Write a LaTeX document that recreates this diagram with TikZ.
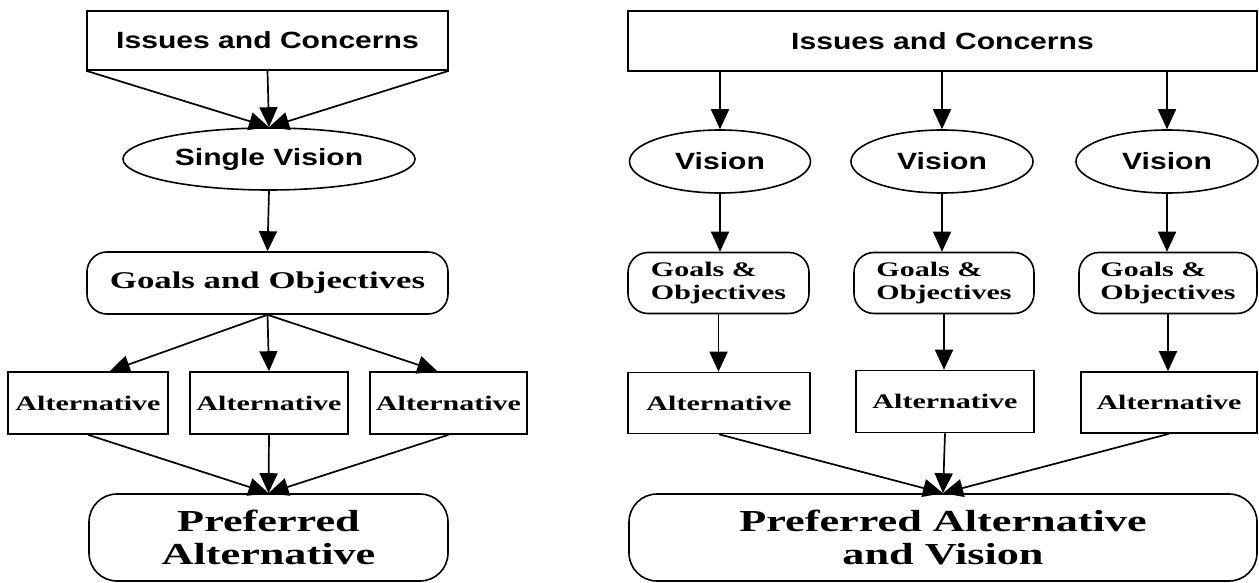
\documentclass[tikz,border=0pt]{standalone}
\usepackage{fontspec}
\usetikzlibrary{arrows.meta,shapes.geometric,calc}
\newfontfamily\sansb[FakeStretch=1.28]{Liberation Sans}
\newfontfamily\serifb[FakeStretch=1.45]{Liberation Serif}
\newcommand{\fsans}{\sansb\bfseries\fontsize{23.5}{26}\selectfont}
\newcommand{\fgoal}{\serifb\bfseries\fontsize{24}{26}\selectfont}
\newcommand{\falt}{\serifb\bfseries\fontsize{20.7}{22.5}\selectfont}
\newcommand{\fpref}{\serifb\bfseries\fontsize{30.5}{33}\selectfont}
\tikzset{
  conn/.style={line width=1.7pt, -{Triangle[length=20pt,width=18pt]}},
  sqbox/.style={draw, line width=1.6pt, inner sep=0pt},
  rbox/.style={draw, line width=1.6pt, rounded corners=20pt, inner sep=0pt},
  pbox/.style={draw, line width=1.6pt, rounded corners=28pt, inner sep=0pt, align=center, font=\fpref},
  oval/.style={draw, ellipse, line width=1.6pt, inner sep=0pt, font=\fsans},
  stxt/.style={font=\fsans},
  gtxt/.style={font=\fgoal},
  atxt/.style={font=\falt},
}
\begin{document}
\begin{tikzpicture}[x=1pt,y=-1pt]
\useasboundingbox (0,0) rectangle (1259,583);
% ---------- left panel ----------
\node[sqbox, stxt, minimum width=361pt, minimum height=59pt] (I1) at (267.5,40.5) {Issues and Concerns};
\node[oval, minimum width=292pt, minimum height=62pt] (SV) at (269,159) {Single Vision};
\node[rbox, gtxt, minimum width=361pt, minimum height=62pt] (G) at (267.5,283) {Goals and Objectives};
\node[sqbox, atxt, minimum width=160pt, minimum height=62pt] (A1) at (88,403) {Alternative};
\node[sqbox, atxt, minimum width=158pt, minimum height=62pt] (A2) at (269,403) {Alternative};
\node[sqbox, atxt, minimum width=157pt, minimum height=62pt] (A3) at (448.5,403) {Alternative};
\node[pbox, minimum width=359pt, minimum height=87pt] (P) at (268.5,537.5) {Preferred\\Alternative};
\draw[conn] (I1.south west) -- (SV.north);
\draw[conn] (I1.south) -- (SV.north);
\draw[conn] (I1.south east) -- (SV.north);
\draw[conn] (SV.south) -- (G.north);
\draw[conn] (G.south) -- ($(A1.north)!0.27!(A1.north east)$);
\draw[conn] (G.south) -- (A2.north);
\draw[conn] (G.south) -- ($(A3.north)!0.14!(A3.north west)$);
\draw[conn] (A1.south) -- (P.north);
\draw[conn] (A2.south) -- (P.north);
\draw[conn] (A3.south) -- (P.north);
% ---------- right panel ----------
\node[sqbox, stxt, minimum width=629pt, minimum height=60pt] (I2) at (942.5,41) {Issues and Concerns};
\node[oval, minimum width=181pt, minimum height=63pt] (V1) at (720,161.5) {Vision};
\node[oval, minimum width=182pt, minimum height=63pt] (V2) at (942,161.5) {Vision};
\node[oval, minimum width=182pt, minimum height=63pt] (V3) at (1167,161.5) {Vision};
\node[rbox, atxt, minimum width=181pt, minimum height=61pt, align=left] (G1) at (718.5,283) {Goals \&\\Objectives};
\node[rbox, atxt, minimum width=180pt, minimum height=61pt, align=left] (G2) at (944,283) {Goals \&\\Objectives};
\node[rbox, atxt, minimum width=178pt, minimum height=61pt, align=left] (G3) at (1168,283) {Goals \&\\Objectives};
\node[sqbox, atxt, minimum width=182pt, minimum height=61pt] (B1) at (719,403) {Alternative};
\node[sqbox, atxt, minimum width=178pt, minimum height=62pt] (B2) at (945,401.5) {Alternative};
\node[sqbox, atxt, minimum width=176pt, minimum height=61pt] (B3) at (1169,402.5) {Alternative};
\node[pbox, minimum width=628pt, minimum height=87pt] (P2) at (943,537.5) {Preferred Alternative\\and Vision};
\draw[conn] (V1.north |- I2.south) -- (V1.north);
\draw[conn] (V2.north |- I2.south) -- (V2.north);
\draw[conn] (V3.north |- I2.south) -- (V3.north);
\draw[conn] (V1.south) -- (V1.south |- G1.north);
\draw[conn] (V2.south) -- (V2.south |- G2.north);
\draw[conn] (V3.south) -- (V3.south |- G3.north);
\draw[conn] (G1.south) -- (G1.south |- B1.north);
\draw[conn] (G2.south) -- (G2.south |- B2.north);
\draw[conn] (G3.south) -- (G3.south |- B3.north);
\draw[conn] (B1.south) -- (P2.north);
\draw[conn] (B2.south) -- (P2.north);
\draw[conn] (B3.south) -- (P2.north);
\end{tikzpicture}
\end{document}
